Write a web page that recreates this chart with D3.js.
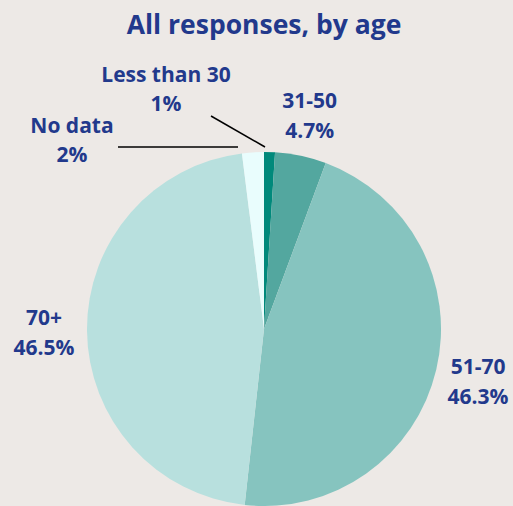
<!DOCTYPE html>
<html lang="en">

<head>
    <meta charset="UTF-8">
    <script src="https://cdn.jsdelivr.net/npm/d3@7/dist/d3.min.js"></script>
    <title>All responses, by age</title>
    <style>
        body { margin: 0; background: #ede9e6; }
        text { font-family: "Open Sans", "Noto Sans", sans-serif; font-weight: 700; fill: #22398c; }
    </style>
</head>

<body>
    <script>
        var width = 513;
        var height = 506;

        // data (clockwise from 12 o'clock)
        var categories = ["Less than 30", "31-50", "51-70", "70+", "No data"];
        var values = [1, 4.7, 46.3, 46.5, 2];
        var valueLabels = ["1%", "4.7%", "46.3%", "46.5%", "2%"];
        var colors = ["#00897b", "#53a79f", "#86c4bf", "#b8e0de", "#e9fdfd"];

        var cx = 264, cy = 329, radius = 177;

        var svg = d3.select("body").append("svg").attr("width", width).attr("height", height);

        svg.append("text")
            .attr("x", 264).attr("y", 34)
            .attr("text-anchor", "middle")
            .style("font-size", "26.5px")
            .text("All responses, by age");

        var pie = d3.pie().sort(null).value(function (d) { return d; });
        var arcs = pie(values);
        var arc = d3.arc().innerRadius(0).outerRadius(radius);
        var labelArc = d3.arc().innerRadius(220).outerRadius(220);

        var g = svg.append("g").attr("transform", "translate(" + cx + "," + cy + ")");

        g.selectAll("path").data(arcs).enter().append("path")
            .attr("d", arc)
            .style("fill", function (d, i) { return colors[i]; });

        // big slices: label along the mid angle
        var outside = [1, 2, 3];
        outside.forEach(function (i) {
            var c = labelArc.centroid(arcs[i]);
            var t = g.append("text").attr("text-anchor", "middle").style("font-size", "21px");
            t.append("tspan").attr("x", c[0]).attr("y", c[1] - 6).text(categories[i]);
            t.append("tspan").attr("x", c[0]).attr("y", c[1] + 24).text(valueLabels[i]);
        });

        // small slices: leader lines
        var leaders = [
            { i: 0, line: [[1, -182], [-53, -213]], label: [-98, -247] },
            { i: 4, line: [[-26, -182], [-146, -182]], label: [-192, -196] }
        ];
        leaders.forEach(function (l) {
            g.append("line")
                .attr("x1", l.line[0][0]).attr("y1", l.line[0][1])
                .attr("x2", l.line[1][0]).attr("y2", l.line[1][1])
                .style("stroke", "#000").style("stroke-width", 1.5);
            var t = g.append("text").attr("text-anchor", "middle").style("font-size", "21px");
            t.append("tspan").attr("x", l.label[0]).attr("y", l.label[1]).text(categories[l.i]);
            t.append("tspan").attr("x", l.label[0]).attr("y", l.label[1] + 29).text(valueLabels[l.i]);
        });
    </script>
</body>

</html>
